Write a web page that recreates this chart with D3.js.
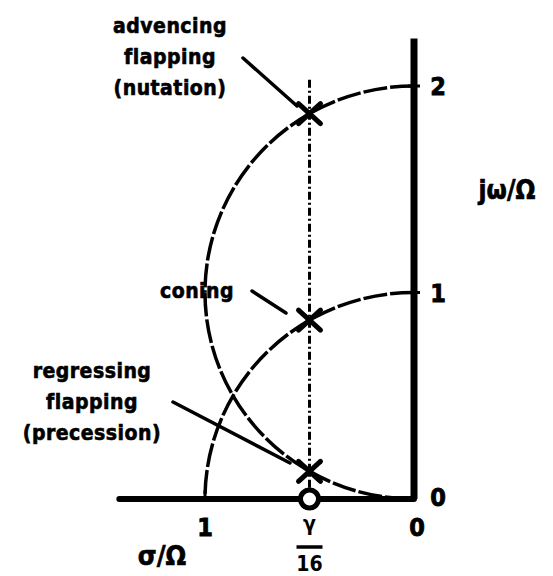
<!DOCTYPE html>
<html>
<head>
<meta charset="utf-8">
<script src="https://cdn.jsdelivr.net/npm/d3@7"></script>
<style>
  body { margin: 0; background: #fff; }
  text { font-family: "DejaVu Sans Condensed", "DejaVu Sans", sans-serif; font-weight: bold; fill: #000; }
</style>
</head>
<body>
<svg id="chart" width="553" height="576"></svg>
<script>
// roots of the flapping modes, s/Omega = sigma + j omega  (gamma/16 = 0.5)
const poles = [
  { name: 'advancing', sigma: -0.5, omega: 1.866 },
  { name: 'coning', sigma: -0.5, omega: 0.866 },
  { name: 'regressing', sigma: -0.5, omega: 0.134 }
];
// zero on the real axis at -gamma/16
const zeros = [{ sigma: -0.5, omega: 0 }];
// loci: circles in s/Omega units, drawn as quarter arcs [from, to]
const loci = [
  { from: [0, 1], to: [-1, 0], r: 1 },   // coning / regressing locus, centre 0
  { from: [0, 2], to: [-1, 1], r: 1 },   // flapping locus, centre j1
  { from: [-1, 1], to: [0, 0], r: 1 }
];
const xTicks = [{ v: -1, label: '1' }, { v: 0, label: '0' }];
const yTicks = [{ v: 0, label: '0' }, { v: 1, label: '1' }, { v: 2, label: '2' }];

const svg = d3.select('#chart');

// scales: sigma (left negative) and omega
const x = d3.scaleLinear().domain([-1, 0]).range([205, 414]);
const y = d3.scaleLinear().domain([0, 2]).range([499, 86]);
const kx = x(0) - x(-1), ky = y(0) - y(1);

// locus arcs
svg.append('g')
  .attr('fill', 'none')
  .attr('stroke', '#000')
  .attr('stroke-width', 3.5)
  .attr('stroke-dasharray', '24,3')
  .selectAll('path')
  .data(loci)
  .join('path')
    .attr('d', d => `M${x(d.from[0])},${y(d.from[1])} A${d.r * kx},${d.r * ky} 0 0 0 ${x(d.to[0])},${y(d.to[1])}`);

// dash-dot line at sigma = -gamma/16
svg.append('line')
  .attr('x1', x(-0.5)).attr('x2', x(-0.5))
  .attr('y1', y(2.03)).attr('y2', y(0.04))
  .attr('stroke', '#000')
  .attr('stroke-width', 3)
  .attr('stroke-dasharray', '8,3,2,3');

// axes
svg.append('line')
  .attr('x1', x(-1.41)).attr('x2', x(0))
  .attr('y1', y(0)).attr('y2', y(0))
  .attr('stroke', '#000').attr('stroke-width', 6).attr('stroke-linecap', 'round');
svg.append('line')
  .attr('x1', x(0)).attr('x2', x(0))
  .attr('y1', y(2.23)).attr('y2', y(0))
  .attr('stroke', '#000').attr('stroke-width', 7);

// small ticks
svg.append('line').attr('x1', x(-1)).attr('x2', x(-1)).attr('y1', y(0)).attr('y2', y(0.04))
  .attr('stroke', '#000').attr('stroke-width', 3);
svg.selectAll('.ytick').data(yTicks.filter(d => d.v > 0)).join('line')
  .attr('x1', x(0) - 6).attr('x2', x(0) + 6)
  .attr('y1', d => y(d.v)).attr('y2', d => y(d.v))
  .attr('stroke', '#000').attr('stroke-width', 3);

// tick labels
svg.selectAll('.xlab').data(xTicks).join('text')
  .attr('x', d => x(d.v) + (d.v === 0 ? 3 : 0))
  .attr('y', 536)
  .attr('text-anchor', 'middle')
  .attr('font-size', 25)
  .attr('font-weight', 'normal')
  .attr('stroke', '#000').attr('stroke-width', 0.8)
  .text(d => d.label);
svg.selectAll('.ylab').data(yTicks).join('text')
  .attr('x', x(0) + 24)
  .attr('y', d => y(d.v) + 9 - (d.v === 0 ? 2 : 0))
  .attr('text-anchor', 'middle')
  .attr('font-size', 25)
  .attr('font-weight', 'normal')
  .attr('stroke', '#000').attr('stroke-width', 0.8)
  .text(d => d.label);

// zero: open circle
svg.selectAll('.zero').data(zeros).join('circle')
  .attr('cx', d => x(d.sigma)).attr('cy', d => y(d.omega))
  .attr('r', 9)
  .attr('fill', '#fff').attr('stroke', '#000').attr('stroke-width', 5);

// poles: X marks
const cross = svg.selectAll('.pole').data(poles).join('g')
  .attr('transform', d => `translate(${x(d.sigma)},${y(d.omega)})`)
  .attr('stroke', '#000').attr('stroke-width', 5).attr('stroke-linecap', 'round');
cross.append('line').attr('x1', -11).attr('y1', -10).attr('x2', 11).attr('y2', 10);
cross.append('line').attr('x1', -11).attr('y1', 10).attr('x2', 11).attr('y2', -10);

// mode labels
const labels = [
  { lines: ['advencing', 'flapping', '(nutation)'], x: 170, y: 33, from: [243, 58], to: [297, 106] },
  { lines: ['coning'], x: 197, y: 298, from: [252, 291], to: [286, 313] },
  { lines: ['regressing', 'flapping', '(precession)'], x: 92, y: 378, from: [173, 402], to: [290, 463] }
];
const lab = svg.selectAll('.lab').data(labels).join('g');
lab.append('text')
  .attr('text-anchor', 'middle')
  .attr('font-size', 21)
  .attr('letter-spacing', 0.5)
  .attr('stroke', '#000').attr('stroke-width', 0.6)
  .selectAll('tspan')
  .data(d => d.lines.map((t, i) => ({ t, x: d.x, y: d.y + i * 31 })))
  .join('tspan')
    .attr('x', d => d.x).attr('y', d => d.y)
    .text(d => d.t);
lab.append('line')
  .attr('x1', d => d.from[0]).attr('y1', d => d.from[1])
  .attr('x2', d => d.to[0]).attr('y2', d => d.to[1])
  .attr('stroke', '#000').attr('stroke-width', 3.5).attr('stroke-linecap', 'round');

// axis titles
svg.append('text').attr('x', 507).attr('y', 199).attr('text-anchor', 'middle')
  .attr('font-size', 26).attr('stroke', '#000').attr('stroke-width', 0.6).text('jω/Ω');
svg.append('text').attr('x', 162).attr('y', 565).attr('text-anchor', 'middle')
  .attr('font-size', 27).attr('stroke', '#000').attr('stroke-width', 0.6).text('σ/Ω');

// gamma/16 fraction under the zero
svg.append('text').attr('x', x(-0.5)).attr('y', 531).attr('text-anchor', 'middle')
  .attr('font-size', 21).text('γ');
svg.append('line').attr('x1', x(-0.5) - 13).attr('x2', x(-0.5) + 13)
  .attr('y1', 547).attr('y2', 547).attr('stroke', '#000').attr('stroke-width', 3.5);
svg.append('text').attr('x', x(-0.5)).attr('y', 571).attr('text-anchor', 'middle')
  .attr('font-size', 21).text('16');
</script>
</body>
</html>
